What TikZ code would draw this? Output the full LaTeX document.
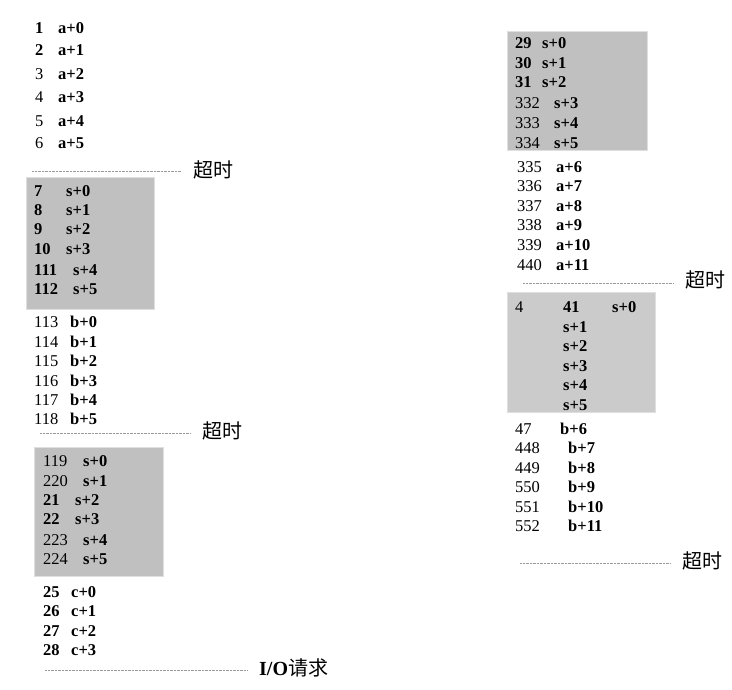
\documentclass[tikz,border=0pt]{standalone}
\usepackage{fontspec}
\setmainfont{Liberation Serif}
\newfontfamily\cjk{Noto Sans CJK SC}
\usepackage{xcolor}
\usepackage{tikz}
\usetikzlibrary{positioning}
\definecolor{boxgray}{HTML}{C0C0C0}
\definecolor{boxlight}{HTML}{CBCBCB}
\definecolor{dotgray}{HTML}{9A9A9A}

\begin{document}
\begin{tikzpicture}[x=1pt, y=-1pt]

\tikzstyle{cell} = [anchor=west, inner sep=0pt, text height=11.5pt, text depth=0pt, font=\fontsize{16.5}{16.5}\selectfont]
\tikzstyle{op} = [cell, font=\fontsize{16.5}{16.5}\selectfont\bfseries]
\tikzstyle{shade} = [fill=boxgray, draw=gray!25, line width=0.8pt, anchor=north west, inner sep=0pt]
\tikzstyle{tag} = [anchor=west, inner sep=0pt, font=\fontsize{20}{20}\selectfont\cjk]
\tikzstyle{wait} = [dotgray, dash pattern=on 0.7pt off 0.7pt, line width=0.7pt, shorten >=12pt]

\useasboundingbox (0,0) rectangle (732,690);

% shaded blocks
\node [shade, minimum width=128pt, minimum height=132pt] (blk1) at (26,177) {};
\node [shade, minimum width=129pt, minimum height=129pt] (blk2) at (34,447) {};
\node [shade, minimum width=140pt, minimum height=119pt] (blk3) at (507,31) {};
\node [shade, fill=boxlight, minimum width=148pt, minimum height=120pt] (blk4) at (507,292) {};

% rows
\foreach \nx/\y/\num/\lx/\lab [count=\i] in {
  35/28/\textbf{1}/58/a+0, 35/50/\textbf{2}/58/a+1, 35/74/3/58/a+2,
  35/97/4/58/a+3, 35/121/5/58/a+4, 35/143/6/58/a+5,
  34/191/\textbf{7}/66/s+0, 34/210/\textbf{8}/66/s+1, 34/229/\textbf{9}/66/s+2,
  34/249/\textbf{10}/66/s+3, 34/270/\textbf{111}/73/s+4, 34/289/\textbf{112}/73/s+5,
  34/322/113/70/b+0, 34/342/114/70/b+1, 34/361/115/70/b+2,
  34/381/116/70/b+3, 34/400/117/70/b+4, 34/419/118/70/b+5,
  43/461/119/83/s+0, 43/481/220/83/s+1, 43/500/\textbf{21}/75/s+2,
  43/519/\textbf{22}/75/s+3, 43/540/223/83/s+4, 43/559/224/83/s+5,
  43/592/\textbf{25}/71/c+0, 43/611/\textbf{26}/71/c+1,
  43/631/\textbf{27}/71/c+2, 43/650/\textbf{28}/71/c+3,
  515/43/\textbf{29}/542/s+0, 515/63/\textbf{30}/542/s+1, 515/82/\textbf{31}/542/s+2,
  515/103/332/554/s+3, 515/123/333/554/s+4, 515/143/334/554/s+5,
  517/167/335/556/a+6, 517/186/336/556/a+7, 517/206/337/556/a+8,
  517/225/338/556/a+9, 517/245/339/556/a+10, 517/265/440/556/a+11,
  515/429/47/560/b+6, 515/448/448/568/b+7, 515/468/449/568/b+8,
  515/487/550/568/b+9, 515/507/551/568/b+10, 515/526/552/568/b+11}
{
  \node [cell] (num\i) at (\nx,\y) {\num};
  \node [op] (op\i) at (\lx,\y) {\lab};
}

% odd block on the right
\node [cell] (num41a) at (515,307) {4};
\node [op] (num41b) at (563,307) {41};
\node [op] (s41) at (612,307) {s+0};
\foreach \y/\lab [count=\i] in {327/s+1, 346/s+2, 366/s+3, 385/s+4, 405/s+5}
  \node [op] (s4\i) at (563,\y) {\lab};

% timeouts
\node [tag] (to1) at (193,170) {超时};
\node [tag] (to2) at (202,431) {超时};
\node [tag] (io) at (259,668) {{\rmfamily\bfseries I/O}请求};
\node [tag] (to3) at (685,280) {超时};
\node [tag] (to4) at (682,561) {超时};

\coordinate (d1) at (32,171);
\coordinate (d2) at (40,433);
\coordinate (d3) at (45,670);
\coordinate (d4) at (523,283);
\coordinate (d5) at (520,563);

\draw [wait] (d1) -- (d1 -| to1.west);
\draw [wait] (d2) -- (d2 -| to2.west);
\draw [wait] (d3) -- (d3 -| io.west);
\draw [wait] (d4) -- (d4 -| to3.west);
\draw [wait] (d5) -- (d5 -| to4.west);
\end{tikzpicture}
\end{document}
